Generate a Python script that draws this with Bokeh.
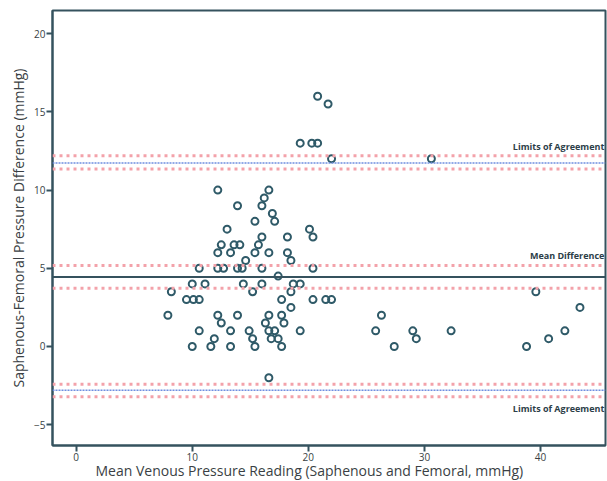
from bokeh.plotting import figure
from bokeh.models import Range1d, Span, Label, Title, FixedTicker
from bokeh.embed import file_html
from bokeh.resources import INLINE

# Data: mean of readings (x) and saphenous-femoral difference (y)
mean_reading = [
    20.8, 21.7, 19.3, 20.3, 20.8, 22.0, 30.6,
    12.2, 16.6, 16.2, 13.9, 16.0, 16.9, 15.4, 17.1,
    13.0, 20.1, 16.0, 18.2, 20.4,
    12.5, 13.6, 14.1, 15.7,
    12.2, 13.3, 15.4, 16.6, 18.2,
    14.6, 18.5,
    10.6, 12.2, 12.7, 13.9, 14.3, 16.0, 20.4,
    17.4,
    10.0, 11.1, 14.4, 16.0, 18.7, 19.3,
    8.2, 15.2, 18.5, 39.6,
    9.5, 10.1, 10.6, 17.7, 20.4, 21.5, 22.0,
    18.5, 43.4,
    7.9, 12.2, 13.9, 16.6, 17.7, 26.3,
    12.5, 16.3, 17.9,
    10.6, 13.3, 14.9, 16.6, 17.1, 19.3, 25.8, 29.0, 32.3, 42.1,
    11.9, 15.2, 16.8, 17.4, 29.3, 40.7,
    10.0, 11.6, 13.3, 15.4, 17.7, 27.4, 38.8,
    16.6,
]
difference = [
    16.0, 15.5, 13.0, 13.0, 13.0, 12.0, 12.0,
    10.0, 10.0, 9.5, 9.0, 9.0, 8.5, 8.0, 8.0,
    7.5, 7.5, 7.0, 7.0, 7.0,
    6.5, 6.5, 6.5, 6.5,
    6.0, 6.0, 6.0, 6.0, 6.0,
    5.5, 5.5,
    5.0, 5.0, 5.0, 5.0, 5.0, 5.0, 5.0,
    4.5,
    4.0, 4.0, 4.0, 4.0, 4.0, 4.0,
    3.5, 3.5, 3.5, 3.5,
    3.0, 3.0, 3.0, 3.0, 3.0, 3.0, 3.0,
    2.5, 2.5,
    2.0, 2.0, 2.0, 2.0, 2.0, 2.0,
    1.5, 1.5, 1.5,
    1.0, 1.0, 1.0, 1.0, 1.0, 1.0, 1.0, 1.0, 1.0, 1.0,
    0.5, 0.5, 0.5, 0.5, 0.5, 0.5,
    0.0, 0.0, 0.0, 0.0, 0.0, 0.0, 0.0,
    -2.0,
]

mean_difference = 4.45
mean_ci = [5.18, 3.72]
upper_loa = 11.73
upper_ci = [12.2, 11.35]
lower_loa = -2.8
lower_ci = [-2.42, -3.22]

x_ticks = [0, 10, 20, 30, 40]
y_ticks = [-5, 0, 5, 10, 15, 20]

ink = "#35525e"
txt = "#3a3f44"

p = figure(width=607, height=481, output_backend="svg", toolbar_location=None,
           x_range=Range1d(-2.04, 45.6), y_range=Range1d(-6.33, 21.48),
           min_border_left=52, min_border_right=2, min_border_top=10, min_border_bottom=36)
p.background_fill_color = "white"
p.border_fill_color = "white"
p.outline_line_color = ink
p.outline_line_width = 2
p.xgrid.visible = False
p.ygrid.visible = False

for ax in (p.xaxis[0], p.yaxis[0]):
    ax.axis_line_color = ink
    ax.axis_line_width = 2
    ax.major_tick_line_color = ink
    ax.major_tick_line_width = 2
    ax.major_tick_out = 6
    ax.major_tick_in = 0
    ax.minor_tick_line_color = None
    ax.major_label_text_font = "Open Sans"
    ax.major_label_text_font_size = "10px"
    ax.major_label_text_color = txt
    ax.major_label_standoff = 1

p.xaxis.ticker = FixedTicker(ticks=x_ticks)
p.yaxis.ticker = FixedTicker(ticks=y_ticks)

p.yaxis.axis_label = "Saphenous-Femoral Pressure Difference (mmHg)"
p.yaxis.axis_label_text_font = "Open Sans"
p.yaxis.axis_label_text_font_size = "14px"
p.yaxis.axis_label_text_font_style = "normal"
p.yaxis.axis_label_text_color = txt
p.yaxis.axis_label_standoff = 3

p.add_layout(Title(text="Mean Venous Pressure Reading (Saphenous and Femoral, mmHg)",
                   align="left", offset=43, text_font="Open Sans",
                   text_font_size="14px", text_font_style="normal",
                   text_color=txt, standoff=-10, text_line_height=0.9), "below")

pink = "#f3a2aa"
blue = "#6f8fe0"
for yv in upper_ci + mean_ci + lower_ci:
    p.add_layout(Span(location=yv, dimension="width", line_color=pink,
                      line_width=3, line_dash="3 4"))
for yv in (upper_loa, lower_loa):
    p.add_layout(Span(location=yv, dimension="width", line_color=blue,
                      line_width=1.5, line_dash="2 1"))
p.add_layout(Span(location=mean_difference, dimension="width", line_color=ink,
                  line_width=2))

p.scatter(mean_reading, difference, marker="circle", size=7,
          fill_color=None, line_color="#2f5a68", line_width=2)

lbl = dict(x=45.5, text_align="right", text_baseline="middle",
           text_font="Open Sans", text_font_size="9px", text_font_style="bold",
           text_color="#2c3e48")
p.add_layout(Label(y=upper_loa + 1.05, text="Limits of Agreement", **lbl))
p.add_layout(Label(y=mean_difference + 1.37, text="Mean Difference", **lbl))
p.add_layout(Label(y=lower_loa - 1.16, text="Limits of Agreement", **lbl))

open("out.html", "w").write(file_html(p, INLINE))
